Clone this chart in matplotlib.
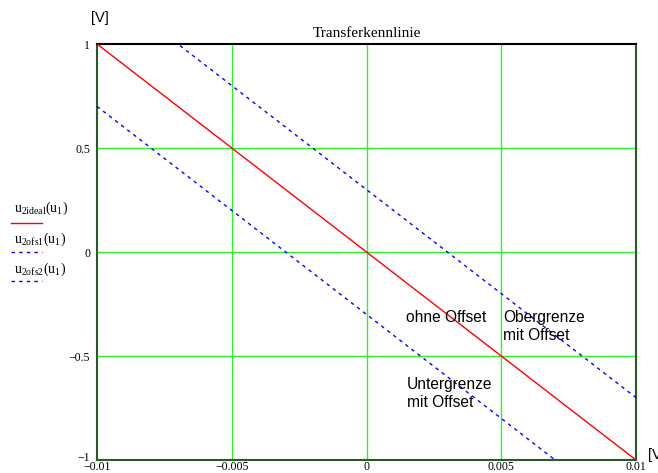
import numpy as np
import matplotlib
matplotlib.use("Agg")
import matplotlib.pyplot as plt
import matplotlib.transforms as mtransforms

# Data
u1 = [-0.01, 0.01]
u2ideal = [1.0, -1.0]
offset = 0.3
u2ofs1 = [v + offset for v in u2ideal]
u2ofs2 = [v - offset for v in u2ideal]
xticks = [-0.01, -0.005, 0, 0.005, 0.01]
xticklabels = ["\u22120.01", "\u22120.005", "0", "0.005", "0.01"]
yticks = [-1, -0.5, 0, 0.5, 1]
yticklabels = ["\u22121", "\u22120.5", "0", "0.5", "1"]

W, H = 658, 473
fig = plt.figure(figsize=(W/100, H/100), dpi=100)
ax = fig.add_axes([97/W, 1-460/H, (636-97)/W, (460-44)/H])

green = "#33ee33"
for x in [-0.005, 0, 0.005]:
    ax.axvline(x, color=green, lw=1.0, zorder=1)
for y in [-0.5, 0, 0.5]:
    ax.axhline(y, color=green, lw=1.0, zorder=1)

dash = (0, (2.5, 3))
ax.plot(u1, u2ideal, color="red", lw=1.0, zorder=3)
ax.plot(u1, u2ofs1, color="blue", lw=1.0, ls=dash, zorder=3)
ax.plot(u1, u2ofs2, color="blue", lw=1.0, ls=dash, zorder=3)

ax.set_xlim(-0.01, 0.01)
ax.set_ylim(-1, 1)
ax.set_xticks(xticks)
ax.set_xticklabels(xticklabels, family="Liberation Serif", fontsize=8.5)
ax.set_yticks(yticks)
ax.set_yticklabels(yticklabels, family="Liberation Serif", fontsize=8.5)
ax.tick_params(axis="x", length=0, pad=1)
ax.tick_params(axis="y", length=0, pad=5)
# nudge the lowest y label up slightly as in the reference
lbl = ax.get_yticklabels()[0]
lbl.set_transform(lbl.get_transform() + mtransforms.ScaledTranslation(0, 4/100, fig.dpi_scale_trans))
for s in ["left", "bottom", "right"]:
    ax.spines[s].set_color("#2a5a2a")
    ax.spines[s].set_linewidth(1.5)
ax.spines["top"].set_color("black")
ax.spines["top"].set_linewidth(1.5)

ax.set_title("Transferkennlinie", family="Liberation Serif", fontsize=11, pad=5)

fig.text(100/W, 1-18/H, "[V]", family="Liberation Sans", fontsize=10.5, ha="center", va="center")
fig.text(648/W, 1-455/H, "[V", family="Liberation Sans", fontsize=10.5, ha="left", va="center")

def px(x, y):
    return (x/W, 1-y/H)

tkw = dict(family="Liberation Sans", fontsize=11.2, va="center", ha="left", linespacing=1.3)
fig.text(*px(406, 317), "ohne Offset", **tkw)
fig.text(*px(503, 326.5), "Obergrenze\nmit Offset", **tkw)
fig.text(*px(407, 393.5), "Untergrenze\nmit Offset", **tkw)

# legend-like labels at left
lkw = dict(family="Liberation Serif", fontsize=10, ha="left", va="center")
labels = [r"u$_{\mathregular{2ideal}}$(u$_{\mathregular{1}}$)",
          r"u$_{\mathregular{2ofs1}}$(u$_{\mathregular{1}}$)",
          r"u$_{\mathregular{2ofs2}}$(u$_{\mathregular{1}}$)"]
ty = [208, 239, 269]
ly = [223, 252, 281]
styles = [("red", "-"), ("blue", dash), ("blue", dash)]
for lab, t, l, (c, ls) in zip(labels, ty, ly, styles):
    fig.text(14/W, 1-t/H, lab, **lkw)
    fig.add_artist(plt.Line2D([11/W, 42/W], [1-l/H, 1-l/H], color=c, lw=1.0, ls=ls))

fig.savefig("out.png", dpi=100)
